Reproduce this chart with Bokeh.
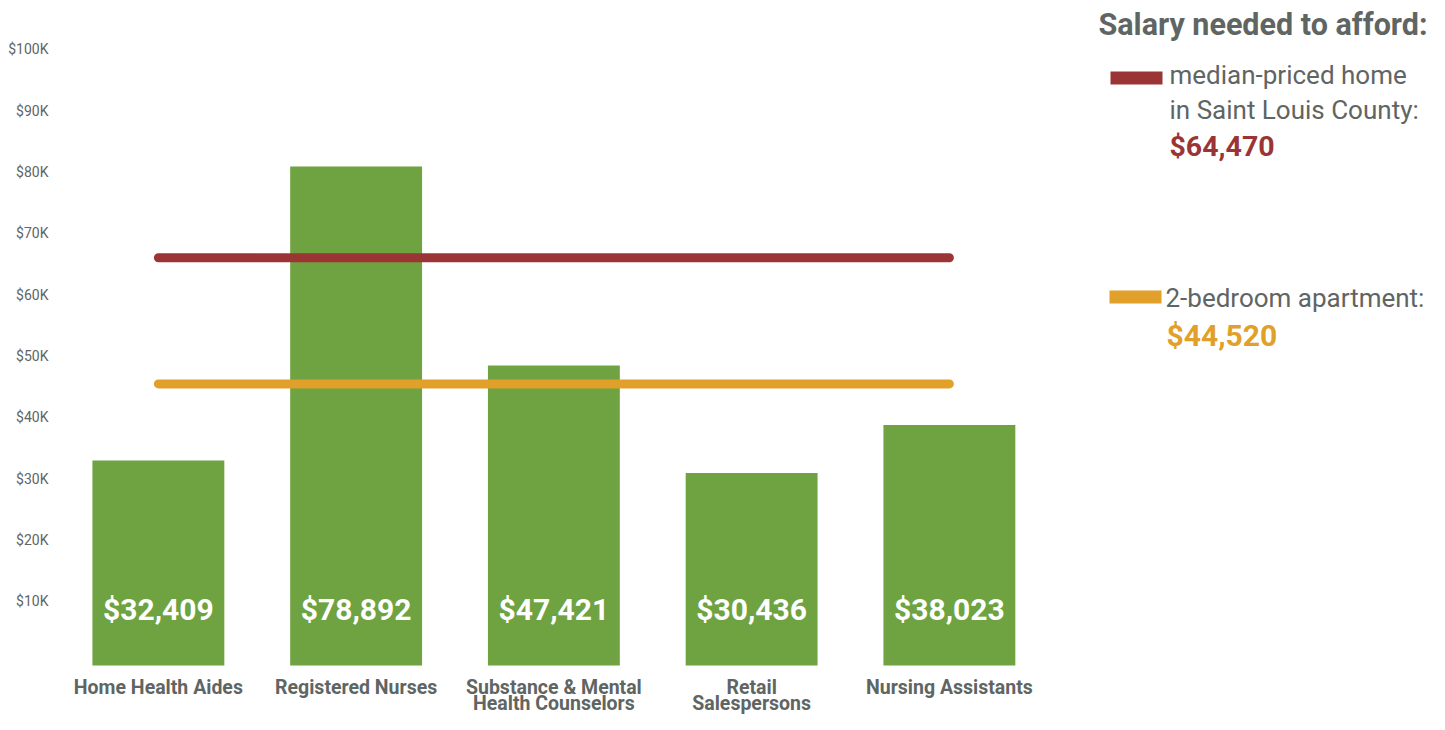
from bokeh.plotting import figure
from bokeh.models import FixedTicker, Range1d, LinearAxis
from bokeh.core.properties import value
from bokeh.embed import file_html
from bokeh.resources import INLINE

# ---------------- data ----------------
categories = ["Home Health Aides", "Registered Nurses", "Substance & Mental\nHealth Counselors",
              "Retail\nSalespersons", "Nursing Assistants"]
salaries = [32409, 78892, 47421, 30436, 38023]
salary_labels = ["$32,409", "$78,892", "$47,421", "$30,436", "$38,023"]
home_salary = 64470
apt_salary = 44520
home_label = "$64,470"
apt_label = "$44,520"
y_ticks = [10000, 20000, 30000, 40000, 50000, 60000, 70000, 80000, 90000, 100000]
y_tick_labels = ["$10K", "$20K", "$30K", "$40K", "$50K", "$60K", "$70K", "$80K", "$90K", "$100K"]

# ---------------- layout (pixel geometry, figure coordinates) ----------------
FONT = "Roboto"
GRAY = "#5f6563"
GREEN = "#6fa341"
RED = "#9b3434"
ORANGE = "#e0a02a"

W, H = 1429, 714
FRAME_LEFT = 59
FRAME_RIGHT = W
FRAME_TOP = 0
FRAME_BOTTOM = H
BASE = 665           # px of y = 0
X_PX = 197.75        # px per category
Y_PX = 6.325 / 1000  # px per dollar

x_start = -0.5
x_end = x_start + (FRAME_RIGHT - FRAME_LEFT) / X_PX


def xd(px):
    return x_start + (px - FRAME_LEFT) / X_PX


def yd(py):
    return (BASE - py) / Y_PX


p = figure(width=W, height=H, output_backend="svg", toolbar_location=None,
           x_range=Range1d(x_start, x_end), y_range=Range1d(yd(FRAME_BOTTOM), yd(FRAME_TOP)),
           min_border_left=FRAME_LEFT, min_border_right=0, min_border_top=0,
           min_border_bottom=0, y_axis_location=None, x_axis_location=None)
p.outline_line_color = None
p.xgrid.visible = False
p.ygrid.visible = False
p.background_fill_color = "white"
p.border_fill_color = "white"

# axis tick labels (labels in the original sit on a slightly different scale)
TICK0 = 662.3
TICK_PX = 61.333 / 10000
p.extra_y_ranges = {"ticks": Range1d((TICK0 - FRAME_BOTTOM) / TICK_PX, (TICK0 - FRAME_TOP) / TICK_PX)}
yax = LinearAxis(y_range_name="ticks")
yax.ticker = FixedTicker(ticks=y_ticks)
yax.major_label_overrides = {t: l for t, l in zip(y_ticks, y_tick_labels)}
yax.axis_line_color = None
yax.major_tick_line_color = None
yax.minor_tick_line_color = None
yax.major_tick_out = 0
yax.major_tick_in = 0
yax.minor_tick_out = 0
yax.minor_tick_in = 0
yax.major_label_standoff = 11
yax.major_label_text_font = FONT
yax.major_label_text_font_size = "14px"
yax.major_label_text_color = GRAY
p.add_layout(yax, "left")

xs = list(range(len(categories)))

# bars
p.vbar(x=xs, top=salaries, bottom=0, width=0.667, fill_color=GREEN, line_color=None)

# category labels (below the bars), one glyph per text line
lines1 = [c.split("\n")[0] for c in categories]
lines2 = [c.split("\n")[1] if "\n" in c else "" for c in categories]
p.text(x=xs, y=[yd(687)] * len(xs), text=lines1, text_font=value(FONT),
       text_font_style="bold", text_font_size="19.5px", text_color=GRAY,
       text_align="center", text_baseline="middle")
p.text(x=xs, y=[yd(703)] * len(xs), text=lines2, text_font=value(FONT),
       text_font_style="bold", text_font_size="19.5px", text_color=GRAY,
       text_align="center", text_baseline="middle")

# bar value labels
p.text(x=xs, y=[yd(608.5)] * len(xs), text=salary_labels, text_font=value(FONT),
       text_font_style="bold", text_font_size="30px", text_color="white",
       text_align="center", text_baseline="middle")

# threshold lines
p.line(x=[xs[0], xs[-1]], y=[home_salary, home_salary], line_color=RED, line_width=9,
       line_cap="round")
p.line(x=[xs[0], xs[-1]], y=[apt_salary, apt_salary], line_color=ORANGE, line_width=9,
       line_cap="round")

# legend
p.text(x=[xd(1427)], y=[yd(24)], text=["Salary needed to afford:"], text_font=value(FONT),
       text_font_style="bold", text_font_size="30.5px", text_color=GRAY,
       text_align="right", text_baseline="middle")
p.quad(left=[xd(1110)], right=[xd(1162)], top=[yd(71)], bottom=[yd(84)],
       fill_color=RED, line_color=None)
p.text(x=[xd(1169), xd(1169)], y=[yd(74), yd(109)],
       text=["median-priced home", "in Saint Louis County:"], text_font=value(FONT),
       text_font_size="26px", text_color=GRAY, text_align="left", text_baseline="middle")
p.text(x=[xd(1169)], y=[yd(145.5)], text=[home_label], text_font=value(FONT),
       text_font_style="bold", text_font_size="28.5px", text_color=RED,
       text_align="left", text_baseline="middle")
p.quad(left=[xd(1109)], right=[xd(1161)], top=[yd(290)], bottom=[yd(303)],
       fill_color=ORANGE, line_color=None)
p.text(x=[xd(1165)], y=[yd(297)], text=["2-bedroom apartment:"], text_font=value(FONT),
       text_font_size="26px", text_color=GRAY, text_align="left", text_baseline="middle")
p.text(x=[xd(1166)], y=[yd(334.5)], text=[apt_label], text_font=value(FONT),
       text_font_style="bold", text_font_size="30px", text_color=ORANGE,
       text_align="left", text_baseline="middle")

open("out.html", "w").write(file_html(p, INLINE))
